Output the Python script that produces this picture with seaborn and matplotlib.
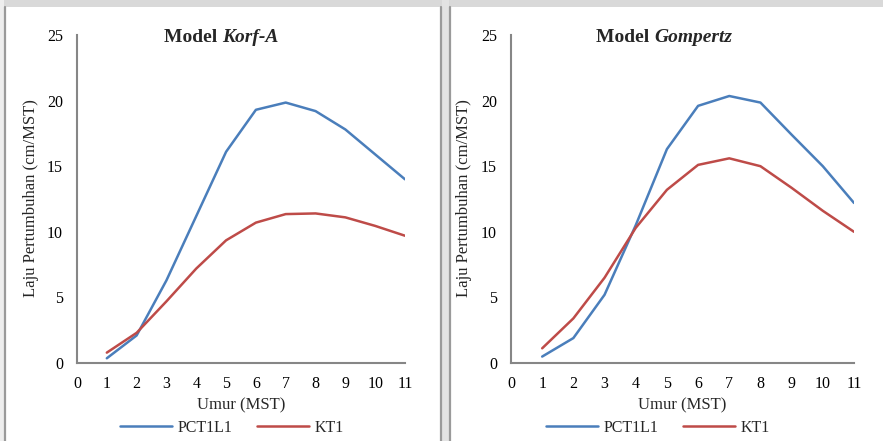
import pandas as pd
import matplotlib.pyplot as plt
import seaborn as sns
from matplotlib.patches import Rectangle
from matplotlib.lines import Line2D

umur = [1, 2, 3, 4, 5, 6, 7, 8, 9, 10, 11]

# Model Korf-A
korf_pct1l1 = [0.36, 2.1, 6.3, 11.2, 16.1, 19.3, 19.85, 19.2, 17.8, 15.9, 14.0]
korf_kt1 = [0.79, 2.3, 4.7, 7.2, 9.35, 10.7, 11.35, 11.4, 11.1, 10.45, 9.7]

# Model Gompertz
gomp_pct1l1 = [0.49, 1.9, 5.2, 10.5, 16.3, 19.6, 20.35, 19.85, 17.4, 15.0, 12.2]
gomp_kt1 = [1.12, 3.4, 6.5, 10.3, 13.2, 15.1, 15.6, 15.0, 13.35, 11.6, 10.0]

series_names = ["PCT1L1", "KT1"]
x_ticks = list(range(0, 12))
y_ticks = [0, 5, 10, 15, 20, 25]

BLUE = "#4a7ebb"
RED = "#be4b48"
AXIS_GREY = "#868686"

sns.set_theme(style="white")
plt.rcParams["font.family"] = ["Liberation Serif", "DejaVu Serif"]


def make_df(pct, kt):
    return pd.DataFrame({
        "Umur": umur * 2,
        "Laju": pct + kt,
        "Seri": [series_names[0]] * len(umur) + [series_names[1]] * len(umur),
    })


fig = plt.figure(figsize=(8.83, 4.41), dpi=100)
fig.patch.set_facecolor("white")

# page decoration: grey top band and chart frame lines
fig.add_artist(Rectangle((0, 1 - 7 / 441), 1, 7 / 441, transform=fig.transFigure,
                         facecolor="#d9d9d9", edgecolor="none", zorder=0))
fig.add_artist(Rectangle((0, 0), 4 / 883, 1, transform=fig.transFigure,
                         facecolor="#eeeeee", edgecolor="none", zorder=0))
fig.add_artist(Rectangle((442 / 883, 0), 7 / 883, 1, transform=fig.transFigure,
                         facecolor="#e3e3e3", edgecolor="none", zorder=0))
for xp in [5, 441, 450]:
    fig.add_artist(Line2D([xp / 883, xp / 883], [0, 1 - 7 / 441], transform=fig.transFigure,
                          color="#9a9a9a", lw=1.6, zorder=1))

# pct, kt, axis x-range (px), model name, ylabel x, title split x, legend centre x
panels = [
    (korf_pct1l1, korf_kt1, [77, 405], "Korf-A", 31, 222, 232),
    (gomp_pct1l1, gomp_kt1, [511, 854], "Gompertz", 464, 654, 658),
]

for pct, kt, (xl, xr), model, ylab_x, title_x, leg_x in panels:
    ax = fig.add_axes([xl / 883, 1 - 363 / 441, (xr - xl) / 883, (363 - 35) / 441])
    df = make_df(pct, kt)
    sns.lineplot(data=df, x="Umur", y="Laju", hue="Seri",
                 palette=[BLUE, RED], linewidth=1.8, ax=ax, legend=False)
    ax.set_xlim(0, 11)
    ax.set_ylim(0, 25)
    ax.set_xticks(x_ticks)
    ax.set_yticks(y_ticks)
    ax.tick_params(axis="both", length=0, labelsize=11.5, colors="black")
    ax.tick_params(axis="x", pad=9)
    ax.tick_params(axis="y", pad=10)
    for s in ["top", "right"]:
        ax.spines[s].set_visible(False)
    for s in ["left", "bottom"]:
        ax.spines[s].set_color(AXIS_GREY)
        ax.spines[s].set_linewidth(1.5)
    ax.set_facecolor("none")
    ax.set_xlabel("")
    ax.set_ylabel("")

    cx = (xl + xr) / 2
    fig.text(cx / 883, 1 - 405 / 441, "Umur (MST)", ha="center", va="center", fontsize=12)
    fig.text(ylab_x / 883, 1 - 198 / 441, "Laju Pertumbuhan (cm/MST)", rotation=90,
             ha="center", va="center", fontsize=12)
    fig.text(title_x / 883, 1 - 38 / 441, "Model ", ha="right", va="center",
             fontsize=14, fontweight="bold")
    fig.text(title_x / 883, 1 - 38 / 441, model, ha="left", va="center", fontsize=14,
             fontweight="bold", fontstyle="italic")

    handles = [Line2D([], [], color=BLUE, lw=1.8), Line2D([], [], color=RED, lw=1.8)]
    fig.legend(handles, series_names, loc="center", ncol=2, frameon=False,
               bbox_to_anchor=(leg_x / 883, 1 - 428 / 441), fontsize=11.5,
               handlelength=3.25, columnspacing=1.5, handletextpad=0.35)

fig.savefig("out.png", dpi=100)
